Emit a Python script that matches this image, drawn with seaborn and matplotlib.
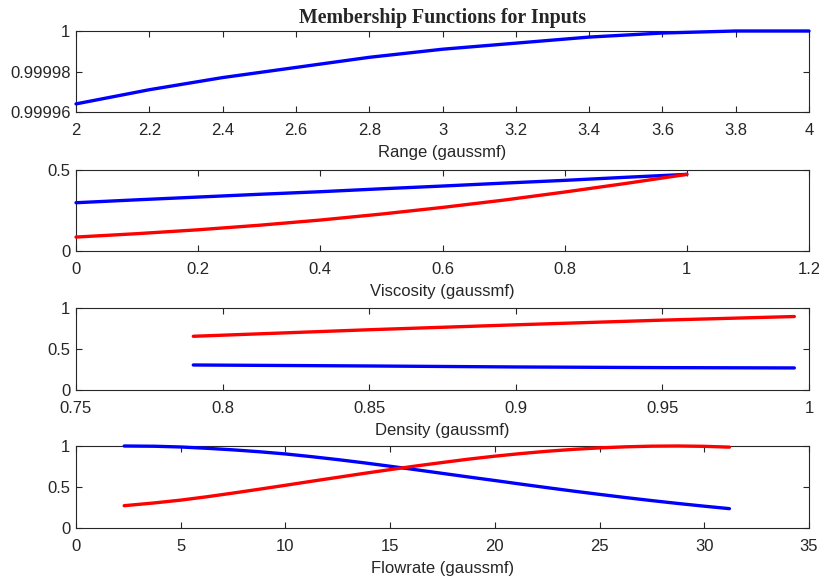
import matplotlib
matplotlib.use("Agg")
import matplotlib.pyplot as plt
import seaborn as sns

# ---- data ----
range_x = [2.0, 2.1, 2.2, 2.3, 2.4, 2.5, 2.6, 2.7, 2.8, 2.9, 3.0,
           3.1, 3.2, 3.3, 3.4, 3.5, 3.6, 3.7, 3.8, 3.9, 4.0]
range_blue = [0.999964, 0.9999675, 0.999971, 0.999974, 0.999977, 0.9999795, 0.999982,
              0.9999845, 0.999987, 0.999989, 0.999991, 0.9999925, 0.999994, 0.9999955,
              0.999997, 0.999998, 0.999999, 0.9999995, 1.0, 1.0, 1.0]

visc_x = [0.0, 0.1, 0.2, 0.3, 0.4, 0.5, 0.6, 0.7, 0.8, 0.9, 1.0]
visc_blue = [0.298, 0.316, 0.333, 0.350, 0.366, 0.384, 0.401, 0.419, 0.436, 0.455, 0.473]
visc_red = [0.086, 0.107, 0.131, 0.159, 0.191, 0.228, 0.269, 0.314, 0.364, 0.417, 0.473]

dens_x = [0.79, 0.85, 0.90, 0.95, 0.995]
dens_blue = [0.305, 0.293, 0.281, 0.273, 0.269]
dens_red = [0.655, 0.735, 0.795, 0.852, 0.896]

flow_x = [2.3, 3.75, 5.0, 6.25, 7.5, 8.75, 10.0, 11.25, 12.5, 13.75, 15.0, 16.25,
          17.5, 18.75, 20.0, 21.25, 22.5, 23.75, 25.0, 26.25, 27.5, 28.75, 30.0, 31.2]
flow_blue = [1.0, 0.997, 0.988, 0.972, 0.953, 0.930, 0.903, 0.870, 0.834, 0.795, 0.753, 0.710,
             0.666, 0.622, 0.579, 0.535, 0.492, 0.450, 0.410, 0.371, 0.334, 0.299, 0.266, 0.236]
flow_red = [0.272, 0.306, 0.340, 0.381, 0.426, 0.473, 0.521, 0.570, 0.618, 0.666, 0.712, 0.757,
            0.799, 0.840, 0.876, 0.908, 0.936, 0.959, 0.977, 0.990, 0.998, 1.0, 0.996, 0.986]

titles = ["Range (gaussmf)", "Viscosity (gaussmf)", "Density (gaussmf)", "Flowrate (gaussmf)"]

sns.set_style("ticks")
plt.rcParams['font.family'] = ['Liberation Sans', 'DejaVu Sans']
plt.rcParams['font.size'] = 12
plt.rcParams['axes.edgecolor'] = '#262626'
plt.rcParams['xtick.color'] = '#262626'
plt.rcParams['ytick.color'] = '#262626'
plt.rcParams['xtick.direction'] = 'in'
plt.rcParams['ytick.direction'] = 'in'

fig = plt.figure(figsize=(8.19, 5.86), dpi=100)
W = 586.0
L = 76 / 819
Wd = (809 - 76) / 819
panels = [(31, 112), (170, 251), (308, 390), (446, 528)]
axes = []
for top, bot in panels:
    ax = fig.add_axes([L, 1 - bot / W, Wd, (bot - top) / W])
    axes.append(ax)

lw = 2.4
BLUE = (0, 0, 1)
RED = (1, 0, 0)


def draw(ax, x, y, color):
    sns.lineplot(x=x, y=y, ax=ax, color=color, lw=lw, estimator=None, sort=False)
    ln = ax.lines[-1]
    ln.set_clip_on(False)
    ln.set_solid_joinstyle('round')
    ln.set_zorder(3 + len(ax.lines) * 0.01)


def style(ax, xlim, ylim, xticks, yticks, xlabels, ylabels, xlabel):
    ax.set_xlim(*xlim)
    ax.set_ylim(*ylim)
    ax.set_xticks(xticks)
    ax.set_xticklabels(xlabels)
    ax.set_yticks(yticks)
    ax.set_yticklabels(ylabels)
    ax.tick_params(top=True, right=True, length=4, width=0.8, labelsize=12)
    ax.tick_params(axis='x', pad=8)
    ax.tick_params(axis='y', pad=4)
    for s in ax.spines.values():
        s.set_visible(True)
        s.set_linewidth(0.8)
    ax.set_xlabel(xlabel, fontsize=12, labelpad=5)
    ax.set_ylabel("")
    if ax.get_legend():
        ax.get_legend().remove()


ax = axes[0]
draw(ax, range_x, range_blue, BLUE)
style(ax, (2, 4), (0.99996, 1.0),
      [2, 2.2, 2.4, 2.6, 2.8, 3, 3.2, 3.4, 3.6, 3.8, 4],
      [0.99996, 0.99998, 1.0],
      ["2", "2.2", "2.4", "2.6", "2.8", "3", "3.2", "3.4", "3.6", "3.8", "4"],
      ["0.99996", "0.99998", "1"], titles[0])
ax.set_title("Membership Functions for Inputs", fontsize=14.3, fontweight='bold',
             family=['Liberation Serif', 'DejaVu Serif'], pad=6)

ax = axes[1]
draw(ax, visc_x, visc_blue, BLUE)
draw(ax, visc_x, visc_red, RED)
style(ax, (0, 1.2), (0, 0.5),
      [0, 0.2, 0.4, 0.6, 0.8, 1.0, 1.2], [0, 0.5],
      ["0", "0.2", "0.4", "0.6", "0.8", "1", "1.2"], ["0", "0.5"], titles[1])

ax = axes[2]
draw(ax, dens_x, dens_red, RED)
draw(ax, dens_x, dens_blue, BLUE)
style(ax, (0.75, 1.0), (0, 1),
      [0.75, 0.8, 0.85, 0.9, 0.95, 1.0], [0, 0.5, 1],
      ["0.75", "0.8", "0.85", "0.9", "0.95", "1"], ["0", "0.5", "1"], titles[2])

ax = axes[3]
draw(ax, flow_x, flow_blue, BLUE)
draw(ax, flow_x, flow_red, RED)
style(ax, (0, 35), (0, 1),
      [0, 5, 10, 15, 20, 25, 30, 35], [0, 0.5, 1],
      ["0", "5", "10", "15", "20", "25", "30", "35"], ["0", "0.5", "1"], titles[3])

fig.savefig("out.png", dpi=100)
